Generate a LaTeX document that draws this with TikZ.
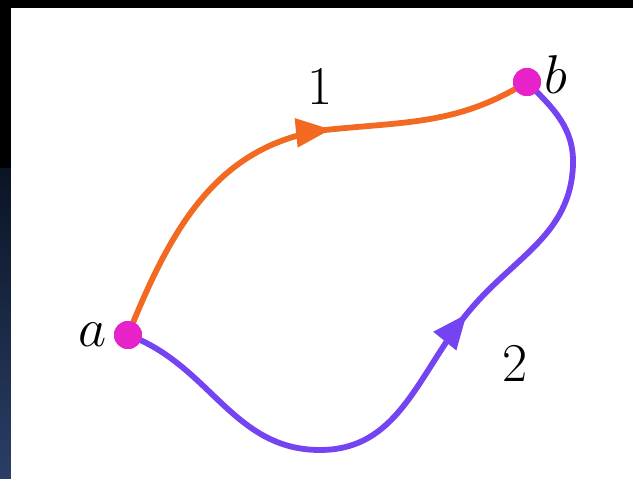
\documentclass[tikz,border=0pt]{standalone}
\usetikzlibrary{positioning, arrows.meta, calc, decorations.markings}
\definecolor{pathone}{HTML}{F26A21}
\definecolor{pathtwo}{HTML}{7444F2}
\definecolor{enddot}{HTML}{E622C8}
\definecolor{stripdark}{HTML}{0A1424}
\definecolor{stripglow}{HTML}{2A3E66}
\tikzset{
  dotpt/.style={circle, fill=enddot, inner sep=0pt, minimum size=0.56cm},
  curve/.style={line width=3.3pt},
  midtip/.style={postaction={decorate}, decoration={markings,
      mark=at position #1 with {\arrow{Triangle[length=7mm, width=5.6mm]}}}},
  lbl/.style={font=\Huge, scale=1.25, inner sep=1pt}
}
\begin{document}
\begin{tikzpicture}
  % frame
  \fill[black] (0,0) rectangle (12.66,9.58);
  \shade[top color=stripdark, bottom color=stripglow] (0,0) rectangle (0.22,6.2);
  \fill[white] (0.22,0) rectangle (12.66,9.42);
  \useasboundingbox (0,0) rectangle (12.66,9.58);

  % end points
  \node[dotpt] (a) at (2.56,2.88) {};
  \node[dotpt] (b) at (10.54,7.94) {};
  \node[lbl, left=0.08cm of a] (alab) {$a$};
  \node[lbl, right=0.02cm of b, yshift=0.12cm] (blab) {$b$};

  % path 1
  \coordinate (p1) at (6.5,6.98);
  \draw[curve, pathone, midtip=0.6] (a.center) to[out=68, in=188] (p1)
    to[out=6, in=212] (b.center);
  \node[lbl] (one) at (6.4,7.85) {$1$};

  % path 2
  \coordinate (q1) at (6.4,0.58);
  \coordinate (q2) at (9.4,3.38);
  \coordinate (q3) at (11.46,6.28);
  \draw[curve, pathtwo, midtip=0.605] (a.center) to[out=-20, in=180] (q1)
    to[out=0, in=230] (q2) to[out=50, in=268] (q3) to[out=88, in=-45] (b.center);
  \node[lbl] (two) at (10.3,2.3) {$2$};

  % dots on top
  \fill[enddot] (a) circle (0.28);
  \fill[enddot] (b) circle (0.28);
\end{tikzpicture}
\end{document}
